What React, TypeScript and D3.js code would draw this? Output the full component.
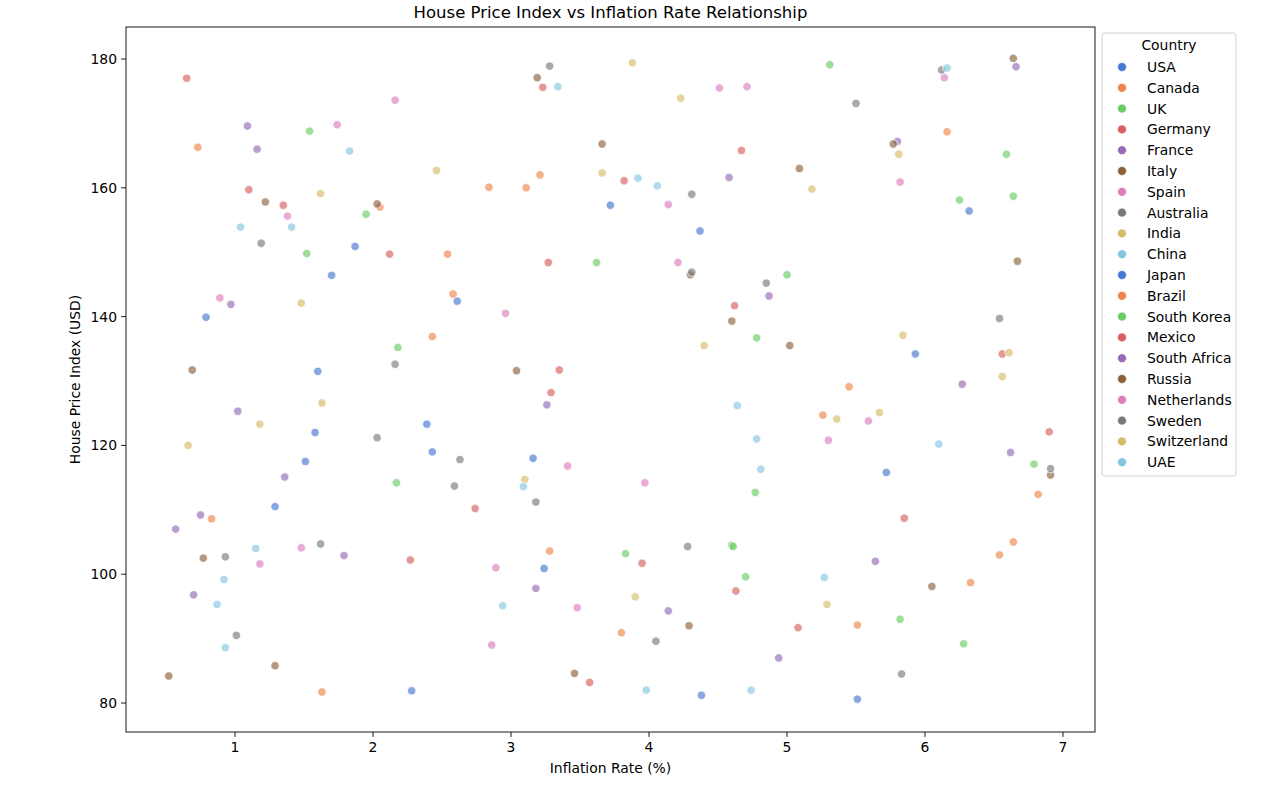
import React from "react";
import * as d3 from "d3";

const countries = ["USA","Canada","UK","Germany","France","Italy","Spain","Australia","India","China","Japan","Brazil","South Korea","Mexico","South Africa","Russia","Netherlands","Sweden","Switzerland","UAE"];

const palette = ["#4878d0","#ee854a","#6acc64","#d65f5f","#956cb4","#8c613c","#dc7ec0","#797979","#d5bb67","#82c6e2"];

// [inflation %, house price index]
const usa = [[3.72,157.3],[6.32,156.4],[1.87,150.9],[1.70,146.4],[0.79,139.9],[1.60,131.5],[4.37,153.3],[2.61,142.4],[5.93,134.2],[1.58,122.0]];
const canada = [[0.73,166.3],[2.05,157.0],[3.21,162.0],[2.84,160.1],[3.11,160.0],[6.16,168.7],[2.54,149.7],[2.58,143.5],[2.43,136.9],[0.83,108.6]];
const uk = [[1.54,168.8],[5.31,179.1],[6.59,165.2],[6.25,158.1],[6.64,158.7],[1.52,149.8],[1.95,155.9],[2.18,135.2],[3.62,148.4],[4.78,136.7]];
const germany = [[0.65,177.0],[1.10,159.7],[1.35,157.3],[3.23,175.6],[4.67,165.8],[3.82,161.1],[2.12,149.7],[3.27,148.4],[4.62,141.7],[3.35,131.7]];
const france = [[1.09,169.6],[1.16,166.0],[4.58,161.6],[6.66,178.8],[5.80,167.2],[0.97,141.9],[4.87,143.2],[1.02,125.3],[1.36,115.1],[0.75,109.2]];
const italy = [[1.22,157.8],[2.03,157.5],[3.19,177.1],[3.66,166.8],[6.64,180.1],[5.77,166.8],[5.09,163.0],[0.69,131.7],[4.30,146.5],[4.60,139.3]];
const spain = [[2.16,173.6],[1.74,169.8],[4.51,175.5],[4.71,175.7],[4.14,157.4],[6.14,177.1],[5.82,160.9],[1.38,155.6],[0.89,142.9],[4.21,148.4]];
const australia = [[3.28,178.9],[4.31,159.0],[6.12,178.3],[5.50,173.1],[1.19,151.4],[2.16,132.6],[4.31,146.9],[4.85,145.2],[6.54,139.7],[2.03,121.2]];
const india = [[2.46,162.7],[1.62,159.1],[3.88,179.4],[4.23,173.9],[3.66,162.3],[5.81,165.2],[5.18,159.8],[1.48,142.1],[4.40,135.5],[5.84,137.1]];
const china = [[1.83,165.7],[3.34,175.7],[3.92,161.5],[4.06,160.3],[6.16,178.6],[1.04,153.9],[1.41,153.9],[1.15,104.0],[4.64,126.2],[4.78,121.0]];
const japan = [[2.39,123.3],[2.43,119.0],[1.51,117.5],[1.29,110.5],[3.16,118.0],[5.72,115.8],[2.28,81.9],[3.24,100.9],[4.38,81.2],[5.51,80.6]];
const brazil = [[3.28,103.6],[5.45,129.1],[5.26,124.7],[6.82,112.4],[6.64,105.0],[6.54,103.0],[1.63,81.7],[3.80,90.9],[6.33,98.7],[5.51,92.1]];
const southKorea = [[5.00,146.5],[2.17,114.2],[4.77,112.7],[4.60,104.5],[4.61,104.3],[3.83,103.2],[6.79,117.1],[4.70,99.6],[5.82,93.0],[6.28,89.2]];
const mexico = [[6.56,134.2],[3.29,128.2],[2.74,110.2],[6.90,122.1],[5.85,108.7],[2.27,102.2],[3.95,101.7],[4.63,97.4],[3.57,83.2],[5.08,91.7]];
const southAfrica = [[0.57,107.0],[1.79,102.9],[3.26,126.3],[6.27,129.5],[6.62,118.9],[0.70,96.8],[3.18,97.8],[4.14,94.3],[5.64,102.0],[4.94,87.0]];
const russia = [[3.04,131.6],[6.67,148.6],[5.02,135.5],[6.91,115.4],[0.77,102.5],[1.29,85.8],[0.52,84.2],[4.29,92.0],[3.46,84.6],[6.05,98.1]];
const netherlands = [[2.96,140.5],[1.48,104.1],[3.41,116.8],[3.97,114.2],[5.59,123.8],[5.30,120.8],[1.18,101.6],[2.89,101.0],[3.48,94.8],[2.86,89.0]];
const sweden = [[1.62,104.7],[2.63,117.8],[2.59,113.7],[3.18,111.2],[4.28,104.3],[6.91,116.4],[0.93,102.7],[1.01,90.5],[4.05,89.6],[5.83,84.5]];
const switzerland = [[6.61,134.4],[6.56,130.7],[1.63,126.6],[1.18,123.3],[0.66,120.0],[3.10,114.7],[5.36,124.1],[5.67,125.1],[3.90,96.5],[5.29,95.3]];
const uae = [[4.81,116.3],[3.09,113.6],[6.10,120.2],[0.92,99.2],[0.87,95.3],[0.93,88.6],[2.94,95.1],[3.98,82.0],[4.74,82.0],[5.27,99.5]];

const seriesData = [usa,canada,uk,germany,france,italy,spain,australia,india,china,japan,brazil,southKorea,mexico,southAfrica,russia,netherlands,sweden,switzerland,uae];

const xTicks = [1,2,3,4,5,6,7];
const yTicks = [80,100,120,140,160,180];

const FONT = "DejaVu Sans, sans-serif";

export default function App() {
  const W = 1279, H = 790;
  const left = 126, right = 1095, top = 27, bottom = 732;
  const x = d3.scaleLinear().domain([0.21, 7.232]).range([left, right]);
  const y = d3.scaleLinear().domain([75.5, 184.97]).range([bottom, top]);

  const points: { c: number; x: number; y: number }[] = [];
  seriesData.forEach((arr, i) => arr.forEach(([a, b]) => points.push({ c: i, x: a, y: b })));

  const legX = 1102, legY = 33, legW = 134, legH = 443;
  const rowH = 20.8;
  const fs = 13.9;

  return (
    <svg width={W} height={H} style={{ position: "absolute", left: 0, top: 0, background: "#fff" }} fontFamily={FONT}>
      <rect x={0} y={0} width={W} height={H} fill="#fff" />
      <text x={(left + right) / 2} y={18} textAnchor="middle" fontSize={16.5} fill="#000">House Price Index vs Inflation Rate Relationship</text>
      {points.map((p, i) => (
        <circle key={i} cx={x(p.x)} cy={y(p.y)} r={4.2} fill={palette[p.c % 10]} fillOpacity={0.65} stroke="#fff" strokeWidth={0.75} />
      ))}
      <rect x={left} y={top} width={right - left} height={bottom - top} fill="none" stroke="#000" strokeWidth={0.9} />
      {xTicks.map((t) => (
        <g key={t}>
          <line x1={x(t)} x2={x(t)} y1={bottom} y2={bottom + 4.9} stroke="#000" strokeWidth={0.9} />
          <text x={x(t)} y={bottom + 19.5} textAnchor="middle" fontSize={fs} fill="#000">{t}</text>
        </g>
      ))}
      {yTicks.map((t) => (
        <g key={t}>
          <line x1={left - 4.9} x2={left} y1={y(t)} y2={y(t)} stroke="#000" strokeWidth={0.9} />
          <text x={left - 9} y={y(t) + 5} textAnchor="end" fontSize={fs} fill="#000">{t}</text>
        </g>
      ))}
      <text x={(left + right) / 2} y={773} textAnchor="middle" fontSize={fs} fill="#000">Inflation Rate (%)</text>
      <text transform={`translate(80,${(top + bottom) / 2}) rotate(-90)`} textAnchor="middle" fontSize={fs} fill="#000">House Price Index (USD)</text>
      <rect x={legX} y={legY} width={legW} height={legH} rx={3} fill="#fff" fillOpacity={0.8} stroke="#cccccc" strokeWidth={0.9} />
      <text x={legX + legW / 2} y={legY + 17} textAnchor="middle" fontSize={fs} fill="#000">Country</text>
      {countries.map((c, i) => (
        <g key={c}>
          <circle cx={1122} cy={67 + i * rowH} r={4.5} fill={palette[i % 10]} stroke="#fff" strokeWidth={0.75} />
          <text x={1147} y={67 + i * rowH + 5} fontSize={fs} fill="#000">{c}</text>
        </g>
      ))}
    </svg>
  );
}
